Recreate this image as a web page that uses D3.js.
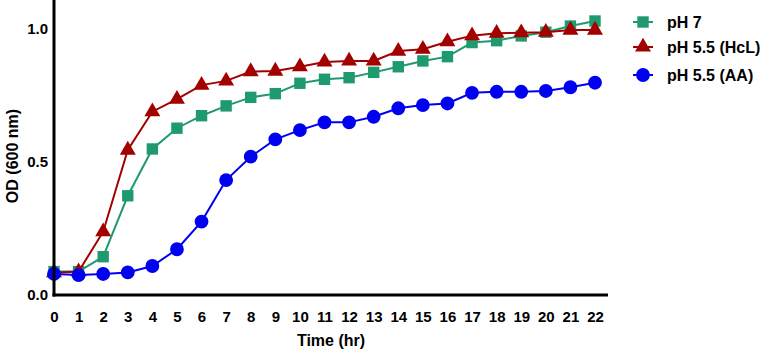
<!DOCTYPE html>
<html>
<head>
<meta charset="utf-8">
<script src="https://cdn.jsdelivr.net/npm/d3@7"></script>
<style>
  body { margin: 0; background: #fff; }
  text { font-family: "Liberation Sans", Arial, sans-serif; font-weight: bold; fill: #000; }
</style>
</head>
<body>
<div id="chart"></div>
<script>
var hours = d3.range(0, 23);
var seriesNames = ["pH 7", "pH 5.5 (HcL)", "pH 5.5 (AA)"];
var ph7 = [0.088, 0.088, 0.144, 0.373, 0.549, 0.627, 0.674, 0.711, 0.743, 0.757, 0.796,
           0.811, 0.817, 0.837, 0.858, 0.880, 0.896, 0.949, 0.956, 0.974, 0.988, 1.011, 1.030];
var ph55hcl = [0.084, 0.088, 0.238, 0.545, 0.689, 0.736, 0.789, 0.805, 0.840, 0.842, 0.858,
               0.876, 0.880, 0.880, 0.917, 0.924, 0.952, 0.975, 0.984, 0.986, 0.988, 0.996, 0.996];
var ph55aa = [0.079, 0.075, 0.079, 0.085, 0.109, 0.172, 0.276, 0.432, 0.520, 0.585, 0.620,
              0.649, 0.649, 0.670, 0.702, 0.714, 0.720, 0.760, 0.764, 0.764, 0.767, 0.781, 0.798];
var yTicks = [0.0, 0.5, 1.0];

var W = 763, H = 352;
var svg = d3.select("#chart").append("svg")
  .attr("width", W).attr("height", H);

var x = d3.scaleLinear().domain([0, 22]).range([54, 595]);
var y = d3.scaleLinear().domain([0, 1]).range([295, 29]);

var series = [
  {name: seriesNames[0], values: ph7, color: "#1f9a6e", symbol: d3.symbolSquare, size: 130},
  {name: seriesNames[1], values: ph55hcl, color: "#a30000", symbol: d3.symbolTriangle, size: 110},
  {name: seriesNames[2], values: ph55aa, color: "#0000f0", symbol: d3.symbolCircle, size: 150}
];

var line = d3.line()
  .x(function(d, i) { return x(hours[i]); })
  .y(function(d) { return y(d); });

series.forEach(function(s) {
  var g = svg.append("g");
  g.append("path")
    .attr("d", line(s.values))
    .attr("fill", "none")
    .attr("stroke", s.color)
    .attr("stroke-width", 2);
  g.selectAll("path.pt")
    .data(s.values).enter()
    .append("path")
    .attr("class", "pt")
    .attr("transform", function(d, i) { return "translate(" + x(hours[i]) + "," + y(d) + ")"; })
    .attr("d", d3.symbol().type(s.symbol).size(s.size))
    .attr("fill", s.color);
});

// axes
var xAxis = svg.append("g")
  .attr("transform", "translate(0," + y(0) + ")")
  .call(d3.axisBottom(x).tickValues(hours).tickSize(0).tickPadding(16).tickFormat(d3.format("d")));
xAxis.select(".domain").remove();
xAxis.selectAll("text").style("font-size", "15px");
svg.append("line")
  .attr("x1", x(0) - 1.5).attr("x2", 608)
  .attr("y1", y(0)).attr("y2", y(0))
  .attr("stroke", "#000").attr("stroke-width", 3);

var yAxis = svg.append("g")
  .attr("transform", "translate(" + x(0) + ",0)")
  .call(d3.axisLeft(y).tickValues(yTicks).tickSize(0).tickPadding(6).tickFormat(d3.format(".1f")));
yAxis.select(".domain").remove();
yAxis.selectAll("text").style("font-size", "15px");
svg.append("line")
  .attr("x1", x(0)).attr("x2", x(0))
  .attr("y1", 0).attr("y2", y(0) + 1.5)
  .attr("stroke", "#000").attr("stroke-width", 3);

svg.append("text")
  .attr("x", 331).attr("y", 346)
  .attr("text-anchor", "middle")
  .style("font-size", "16px")
  .text("Time (hr)");

svg.append("text")
  .attr("transform", "translate(18," + 156 + ") rotate(-90)")
  .attr("text-anchor", "middle")
  .style("font-size", "16px")
  .text("OD (600 nm)");

// legend
var legendY = [22, 47, 75];
var legend = svg.selectAll("g.legend")
  .data(series).enter()
  .append("g")
  .attr("class", "legend")
  .attr("transform", function(d, i) { return "translate(643," + legendY[i] + ")"; });
legend.append("line")
  .attr("x1", -10).attr("x2", 10)
  .attr("stroke", function(d) { return d.color; })
  .attr("stroke-width", 2);
legend.append("path")
  .attr("d", function(d) { return d3.symbol().type(d.symbol).size(d.size)(); })
  .attr("fill", function(d) { return d.color; });
legend.append("text")
  .attr("x", 24).attr("dy", "0.35em")
  .style("font-size", "16px")
  .text(function(d) { return d.name; });
</script>
</body>
</html>
